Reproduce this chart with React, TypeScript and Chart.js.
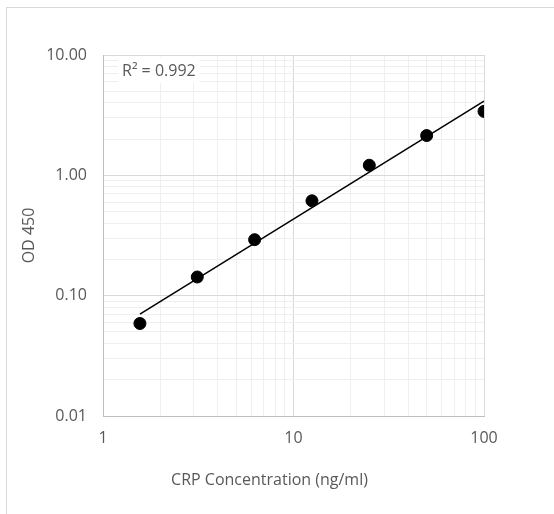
import React, { useEffect, useRef } from "react";
import { Chart, registerables } from "chart.js";

Chart.register(...registerables);

const concentrations = [1.5625, 3.125, 6.25, 12.5, 25, 50, 100];
const od450 = [0.0587, 0.1429, 0.292, 0.614, 1.213, 2.14, 3.4];
const xMajorTicks = [1, 10, 100];
const yMajorTicks = [0.01, 0.1, 1, 10];
const minorSteps = [1, 2, 3, 4, 5, 6, 7, 8, 9];
const xTitle = "CRP Concentration (ng/ml)";
const yTitle = "OD 450";
const r2Label = "R² = 0.992";

const FONT = "'Open Sans', 'Noto Sans', sans-serif";
const TEXT = "#595959";
const FS = 16;

function logTicks(majors: number[]) {
  const out: number[] = [];
  for (let i = 0; i < majors.length - 1; i++) {
    for (const m of minorSteps) out.push(parseFloat((majors[i] * m).toPrecision(6)));
  }
  out.push(majors[majors.length - 1]);
  return out;
}

function isMajor(v: number) {
  const l = Math.log10(v);
  return Math.abs(l - Math.round(l)) < 1e-9;
}

function powerFit(xs: number[], ys: number[]) {
  const lx = xs.map(Math.log10);
  const ly = ys.map(Math.log10);
  const n = lx.length;
  const mx = lx.reduce((a, b) => a + b, 0) / n;
  const my = ly.reduce((a, b) => a + b, 0) / n;
  let sxx = 0;
  let sxy = 0;
  for (let i = 0; i < n; i++) {
    sxx += (lx[i] - mx) ** 2;
    sxy += (lx[i] - mx) * (ly[i] - my);
  }
  const slope = sxy / sxx;
  const intercept = my - slope * mx;
  return (x: number) => Math.pow(10, intercept + slope * Math.log10(x));
}

const overlayPlugin = {
  id: "overlay",
  afterDraw(chart: any) {
    const { ctx, chartArea } = chart;
    ctx.save();
    ctx.font = `${FS}px ${FONT}`;
    // R² label with white background
    const bx = chartArea.left + 15;
    const by = chartArea.top + 2;
    const tw = ctx.measureText(r2Label).width;
    ctx.fillStyle = "#ffffff";
    ctx.fillRect(bx, by, tw + 8, 26);
    ctx.fillStyle = TEXT;
    ctx.textAlign = "left";
    ctx.textBaseline = "middle";
    ctx.fillText(r2Label, bx + 4, by + 14);
    // x-axis title
    ctx.textAlign = "center";
    ctx.fillText(xTitle, (chartArea.left + chartArea.right) / 2 - 24, chartArea.bottom + 64);
    ctx.restore();
  },
};

export default function App() {
  const ref = useRef<HTMLCanvasElement>(null);

  useEffect(() => {
    if (!ref.current) return;
    const fit = powerFit(concentrations, od450);
    const xMin = concentrations[0];
    const xMax = concentrations[concentrations.length - 1];
    const trend = [
      { x: xMin, y: fit(xMin) },
      { x: xMax, y: fit(xMax) },
    ];
    const points = concentrations.map((x, i) => ({ x, y: od450[i] }));
    const xTicks = logTicks(xMajorTicks);
    const yTicks = logTicks(yMajorTicks);

    const gridColor = (ctx: any) =>
      ctx.tick && isMajor(ctx.tick.value) ? "#d9d9d9" : "#efefef";

    const chart = new Chart(ref.current, {
      type: "scatter",
      data: {
        datasets: [
          {
            type: "line",
            data: trend,
            borderColor: "#000000",
            borderWidth: 1.5,
            pointRadius: 0,
            fill: false,
            order: 0,
          } as any,
          {
            type: "scatter",
            data: points,
            backgroundColor: "#000000",
            borderColor: "#000000",
            pointRadius: 6,
            order: 1,
          },
        ],
      },
      plugins: [overlayPlugin],
      options: {
        animation: false,
        responsive: false,
        layout: { padding: { left: 0, top: 55, right: 70, bottom: 0 } },
        plugins: {
          legend: { display: false },
          tooltip: { enabled: false },
        },
        scales: {
          x: {
            type: "logarithmic",
            min: xMajorTicks[0],
            max: xMajorTicks[xMajorTicks.length - 1],
            afterBuildTicks: (s: any) => {
              s.ticks = xTicks.map((v) => ({ value: v }));
            },
            afterFit: (s: any) => {
              s.height = 98;
            },
            grid: { color: gridColor, drawTicks: false, lineWidth: 1 },
            border: { color: "#bfbfbf", width: 1 },
            ticks: {
              autoSkip: false,
              maxRotation: 0,
              padding: 13,
              color: TEXT,
              font: { family: FONT, size: FS },
              callback: (v: any) => (xMajorTicks.some((m) => Math.abs(m - v) < 1e-9) ? String(v) : ""),
            },
            title: { display: false },
          },
          y: {
            type: "logarithmic",
            min: yMajorTicks[0],
            max: yMajorTicks[yMajorTicks.length - 1],
            afterBuildTicks: (s: any) => {
              s.ticks = yTicks.map((v) => ({ value: v }));
            },
            afterFit: (s: any) => {
              s.width = 103;
            },
            grid: { color: gridColor, drawTicks: false, lineWidth: 1 },
            border: { color: "#bfbfbf", width: 1 },
            ticks: {
              autoSkip: false,
              padding: 16,
              color: TEXT,
              font: { family: FONT, size: FS },
              callback: (v: any) =>
                yMajorTicks.some((m) => Math.abs(m - v) < 1e-12) ? Number(v).toFixed(2) : "",
            },
            title: {
              display: true,
              text: yTitle,
              color: TEXT,
              font: { family: FONT, size: FS },
              padding: { top: 20, bottom: 0 },
            },
          },
        },
      },
    });
    return () => chart.destroy();
  }, []);

  return (
    <div style={{ position: "absolute", left: 0, top: 0, width: 554, height: 514, background: "#fff" }}>
      <div
        style={{
          position: "absolute",
          left: 6,
          top: 7,
          width: 547,
          height: 506,
          borderLeft: "1px solid #d9d9d9",
          borderTop: "1px solid #d9d9d9",
        }}
      />
      <canvas
        ref={ref}
        width={554}
        height={514}
        style={{ position: "absolute", left: 0, top: 0, width: 554, height: 514 }}
      />
    </div>
  );
}
